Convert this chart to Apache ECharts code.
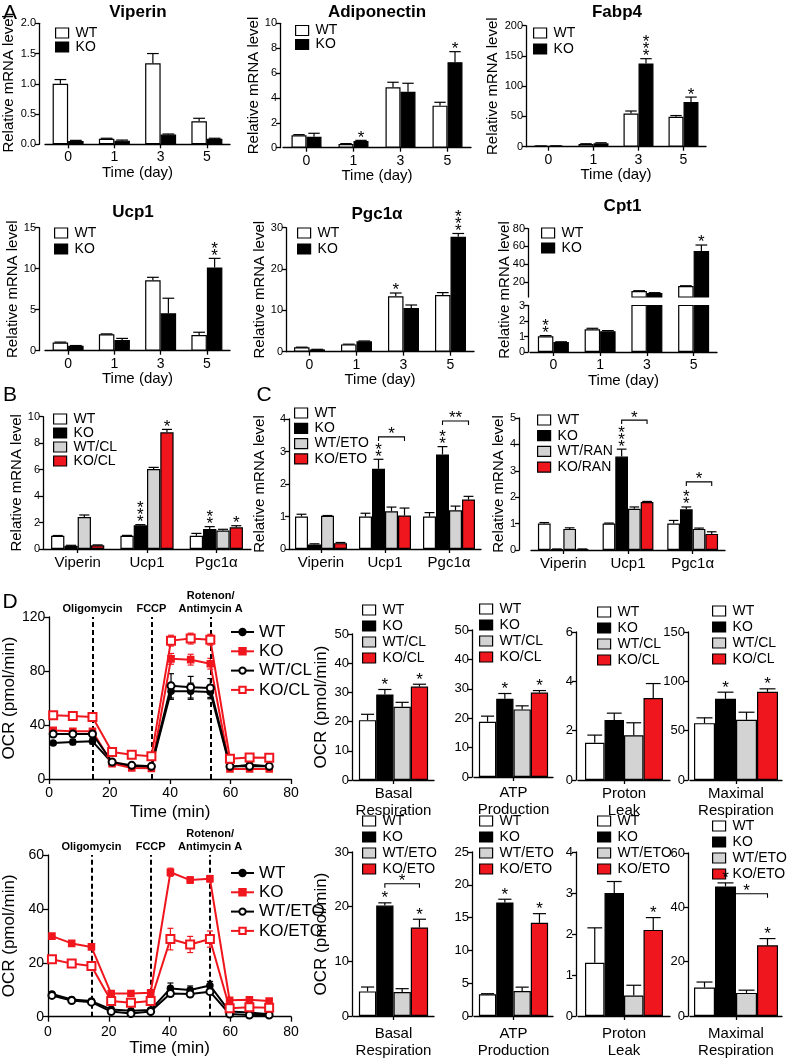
<!DOCTYPE html>
<html><head><meta charset="utf-8">
<script src="https://cdn.jsdelivr.net/npm/echarts@6/dist/echarts.min.js"></script>
<style>html,body{margin:0;padding:0;background:#fff}#c{width:793px;height:1064px}</style>
</head><body><div id="c"></div>
<script>
const FONT = "'Liberation Sans', Arial, Helvetica, sans-serif";
const RED = '#f0161e', GRAY = '#d3d3d3', WHITE = '#ffffff', BLACK = '#000000';

// ---------- Panel A ----------
const days = ['0', '1', '3', '5'];
const viperinWT = [1.00, 0.09, 1.34, 0.38], viperinWTsem = [0.07, 0.01, 0.16, 0.05];
const viperinKO = [0.055, 0.06, 0.16, 0.09], viperinKOsem = [0.01, 0.01, 0.01, 0.01];
const adipoWT = [1.0, 0.30, 4.86, 3.38], adipoWTsem = [0.05, 0.03, 0.40, 0.27];
const adipoKO = [0.88, 0.54, 4.50, 6.87], adipoKOsem = [0.28, 0.05, 0.68, 0.85];
const adipoKOstars = ['', '*', '', '*'];
const fabp4WT = [1.0, 4.4, 55, 49.5], fabp4WTsem = [0.3, 0.5, 4, 2];
const fabp4KO = [1.2, 5.5, 137.5, 74], fabp4KOsem = [0.3, 1.0, 8, 8];
const fabp4KOstars = ['', '', '***', '*'];
const ucp1WT = [1.0, 2.0, 8.6, 1.9], ucp1WTsem = [0.05, 0.05, 0.35, 0.35];
const ucp1KO = [0.6, 1.3, 4.56, 10.16], ucp1KOsem = [0.03, 0.2, 1.84, 1.1];
const ucp1KOstars = ['', '', '', '**'];
const pgcWT = [1.05, 1.77, 13.4, 13.7], pgcWTsem = [0.05, 0.05, 0.8, 0.6];
const pgcKO = [0.55, 2.5, 10.6, 27.8], pgcKOsem = [0.03, 0.1, 0.7, 0.8];
const pgcWTstars = ['', '', '*', ''], pgcKOstars = ['', '', '', '***'];
const cpt1WT = [1.02, 1.47, 9.8, 15.4], cpt1WTsem = [0.04, 0.06, 0.3, 0.3];
const cpt1KO = [0.64, 1.34, 7.5, 54.9], cpt1KOsem = [0.02, 0.04, 0.4, 6.7];
const cpt1WTstars = ['**', '', '', ''], cpt1KOstars = ['', '', '', '*'];

// ---------- Panels B, C ----------
const genes = ['Viperin', 'Ucp1', 'Pgc1α'];
const bWT = [1.0, 1.0, 1.0], bWTsem = [0.02, 0.03, 0.18];
const bKO = [0.25, 1.79, 1.51], bKOsem = [0.03, 0.05, 0.18];
const bWTCL = [2.42, 6.05, 1.39], bWTCLsem = [0.15, 0.12, 0.1];
const bKOCL = [0.28, 8.82, 1.64], bKOCLsem = [0.03, 0.22, 0.12];
const bKOstars = ['', '***', '**'], bKOCLstars = ['', '*', '*'];

const cWT = [1.0, 1.0, 1.0], cWTsem = [0.07, 0.1, 0.12];
const cKO = [0.14, 2.47, 2.91], cKOsem = [0.02, 0.29, 0.24];
const cWTETO = [1.02, 1.16, 1.19], cWTETOsem = [0.01, 0.13, 0.13];
const cKOETO = [0.18, 1.03, 1.52], cKOETOsem = [0.02, 0.23, 0.10];
const cKOstars = ['', '**', '**'];
const cBrackets = [{ci: 1, s1: 1, s2: 3, y: 3.45, text: '*'}, {ci: 2, s1: 1, s2: 3, y: 3.94, text: '**'}];

const rWT = [1.0, 1.0, 1.0], rWTsem = [0.04, 0.02, 0.12];
const rKO = [0.03, 3.54, 1.54], rKOsem = [0.01, 0.28, 0.09];
const rWTRAN = [0.8, 1.56, 0.8], rWTRANsem = [0.04, 0.07, 0.03];
const rKORAN = [0.03, 1.82, 0.61], rKORANsem = [0.01, 0.02, 0.08];
const rKOstars = ['', '***', '**'];
const rBrackets = [{ci: 1, s1: 1, s2: 3, y: 4.92, text: '*'}, {ci: 2, s1: 1, s2: 3, y: 2.58, text: '*'}];

// ---------- Panel D ----------
const times = [1.3, 7.8, 14.3, 20.8, 27.3, 33.8, 40.3, 46.8, 53.3, 59.8, 66.3, 72.8];
const injections = [14.3, 33.8, 53.4];
const injectionLabels = ['Oligomycin', 'FCCP', 'Rotenon/\nAntimycin A'];
const d1WT = [26.7, 27.4, 27.9, 11.9, 9.4, 8.9, 65, 65, 64.4, 8.9, 10.6, 9.4];
const d1WTsem = [1, 2, 2, 1, 1, 1, 6, 6, 5, 1, 1, 1];
const d1KO = [36, 35.3, 35.3, 11.4, 8.1, 7.9, 89, 88.4, 85.4, 7.4, 7.4, 7.4];
const d1KOsem = [1, 1, 1, 1, 1, 1, 4, 4, 4, 1, 1, 1];
const d1WTCL = [33.3, 33.3, 33.3, 12.6, 10.1, 9.4, 69, 68, 67.4, 9.4, 9.4, 9.4];
const d1WTCLsem = [2, 2, 2, 1, 1, 1, 9, 8, 7, 1, 1, 1];
const d1KOCL = [47.2, 46.7, 45.9, 20, 18, 16.8, 102.5, 104, 103.2, 15, 16, 15.8];
const d1KOCLsem = [1, 1, 1, 1, 1, 1, 4, 4, 4, 1, 1, 1];

const d2WT = [8.4, 6.4, 5.8, 2.7, 2.2, 2.5, 10.5, 9.9, 11.6, 1.9, 1.6, 0.9];
const d2WTsem = [0.6, 0.5, 0.5, 0.5, 0.5, 0.5, 2, 1.5, 1.5, 0.5, 0.5, 0.5];
const d2KO = [29.9, 27.2, 25.9, 8.6, 8.6, 8.9, 53.6, 50.7, 51.2, 6.1, 6.3, 5.8];
const d2KOsem = [0.5, 0.5, 0.5, 0.4, 0.3, 0.3, 1.5, 1.2, 1.2, 0.4, 0.4, 0.4];
const d2WTETO = [7.9, 6.0, 5.4, 1.9, 1.2, 1.9, 8.6, 8.4, 9.3, 1.0, 0.6, 0.6];
const d2WTETOsem = [0.5, 0.5, 0.5, 0.5, 0.5, 0.5, 1, 1, 1, 0.5, 0.5, 0.5];
const d2KOETO = [21.3, 19.7, 18.8, 5.8, 5.2, 5.8, 28.8, 26.8, 28.8, 3.1, 3.5, 3.3];
const d2KOETOsem = [1.2, 1.2, 1.3, 0.5, 0.5, 0.5, 4, 3, 3, 0.5, 0.5, 0.5];

const basalCL = [20.5, 29.3, 25.1, 32.0], basalCLsem = [2.0, 1.7, 1.5, 0.8];
const atpCL = [18.8, 26.6, 23.0, 28.7], atpCLsem = [1.9, 1.8, 1.2, 0.7];
const protonCL = [1.51, 2.43, 1.81, 3.32], protonCLsem = [0.31, 0.28, 0.51, 0.59];
const maxCL = [57.6, 82.3, 61.0, 89.4], maxCLsem = [5.4, 6.7, 7.7, 3.0];
const starsCL = ['', '*', '', '*'];

const basalETO = [4.5, 20.2, 4.4, 16.2], basalETOsem = [0.8, 0.5, 0.6, 1.5];
const atpETO = [3.3, 17.3, 3.8, 14.2], atpETOsem = [0.1, 0.5, 0.6, 1.4];
const protonETO = [1.3, 3.0, 0.5, 2.1], protonETOsem = [0.85, 0.28, 0.25, 0.3];
const maxETO = [10.5, 47.7, 8.5, 26.0], maxETOsem = [2, 1.3, 1, 2.5];
const starsETO = ['', '*', '', '*'];
const starsProtonETO = ['', '', '', '*'];
const basalETOBracket = [{ci: 0, s1: 1, s2: 3, y: 24.2, text: '*'}];
const maxETOBracket = [{ci: 0, s1: 1, s2: 3, y: 45, text: '*'}];

// ---------------------------------------------------------------
const option = {
  animation: false, backgroundColor: '#fff', textStyle: {fontFamily: FONT},
  grid: [], xAxis: [], yAxis: [], series: [], legend: [], graphic: {elements: []}
};
const G = option.graphic.elements;
const LW = 1.3;

function addText(x, y, text, fs, bold, rot) {
  G.push({type: 'text', x: x, y: y, rotation: rot || 0, silent: true,
    style: {text: text, fontSize: fs, fontWeight: bold ? 'bold' : 'normal', fontFamily: FONT, fill: '#000', align: 'center', verticalAlign: 'middle'}});
}
function starEl(x, cy, text, fs) {
  return {type: 'text', x: x, y: cy + 0.22 * fs, style: {text: text, fontSize: fs, fontFamily: FONT, fill: '#000', align: 'center', verticalAlign: 'middle'}};
}

function addBarPanel(p) {
  const idx = option.grid.length;
  option.grid.push(Object.assign({containLabel: false}, p.grid));
  const showX = p.showX !== false;
  const xa = {type: 'category', gridIndex: idx, data: p.cats,
    axisLine: {show: showX, lineStyle: {color: '#000', width: LW}},
    axisTick: {show: showX, alignWithLabel: true, length: 4, lineStyle: {color: '#000', width: LW}},
    axisLabel: {show: showX, interval: 0, color: '#000', fontSize: p.xFont || 14, margin: p.xMargin || 6, fontFamily: FONT, lineHeight: p.xLH || undefined},
    splitLine: {show: false}};
  if (p.xName) Object.assign(xa, {name: p.xName, nameLocation: 'middle', nameGap: p.xNameGap,
    nameTextStyle: {color: '#000', fontSize: 15, fontFamily: FONT}});
  option.xAxis.push(xa);
  const y = p.y;
  const ya = {type: 'value', gridIndex: idx, min: y.min, max: y.max, interval: y.interval, offset: y.offset || 0,
    axisLine: {show: true, lineStyle: {color: '#000', width: LW}},
    axisTick: {show: true, length: 4, lineStyle: {color: '#000', width: LW}},
    axisLabel: {color: '#000', fontSize: y.fontSize || 11, margin: 3, fontFamily: FONT},
    splitLine: {show: false}};
  if (y.formatter) ya.axisLabel.formatter = y.formatter;
  if (y.customValues) { ya.axisLabel.customValues = y.customValues; ya.axisTick.customValues = y.customValues; }
  if (y.name) Object.assign(ya, {name: y.name, nameLocation: 'middle', nameGap: y.nameGap, nameRotate: 90,
    nameTextStyle: {color: '#000', fontSize: y.nameFont || 15, fontFamily: FONT}});
  option.yAxis.push(ya);
  const n = p.groups.length, bw = p.barWidth, cap = p.cap || bw * 0.38, fs = p.starFont || 17, sg = p.starGap || 6;
  p.groups.forEach(g => option.series.push({type: 'bar', name: g.name, xAxisIndex: idx, yAxisIndex: idx, data: g.values,
    barWidth: bw, barGap: '0%', clip: true, silent: true, z: 2,
    itemStyle: {color: g.color, borderColor: '#000', borderWidth: 1.2}}));
  const items = [];
  p.groups.forEach((g, si) => g.values.forEach((v, ci) => {
    if (p.keep && !p.keep(v)) return;
    items.push([ci, v, g.sem ? g.sem[ci] : 0, si]);
  }));
  option.series.push({type: 'custom', xAxisIndex: idx, yAxisIndex: idx, silent: true, z: 5, data: items,
    renderItem: function (params, api) {
      const ci = api.value(0), v = api.value(1), e = api.value(2), si = api.value(3);
      const c0 = api.coord([ci, v]);
      const cx = c0[0] + (si - (n - 1) / 2) * bw;
      const y1 = c0[1], y2 = api.coord([ci, v + e])[1];
      const ch = [];
      if (e > 0) {
        ch.push({type: 'line', shape: {x1: cx, y1: y1, x2: cx, y2: y2}, style: {stroke: '#000', lineWidth: 1.2}});
        ch.push({type: 'line', shape: {x1: cx - cap, y1: y2, x2: cx + cap, y2: y2}, style: {stroke: '#000', lineWidth: 1.2}});
      }
      const st = p.groups[si].stars ? p.groups[si].stars[ci] : '';
      for (let k = 0; k < (st ? st.length : 0); k++) ch.push(starEl(cx, y2 - sg - k * 7, '*', fs));
      return {type: 'group', children: ch};
    }});
  if (p.brackets) {
    const br = p.brackets;
    option.series.push({type: 'custom', xAxisIndex: idx, yAxisIndex: idx, silent: true, z: 6,
      data: br.map(b => [b.ci, b.y]),
      renderItem: function (params, api) {
        const b = br[params.dataIndex];
        const c0 = api.coord([b.ci, b.y]);
        const x1 = c0[0] + (b.s1 - (n - 1) / 2) * bw, x2 = c0[0] + (b.s2 - (n - 1) / 2) * bw, yy = c0[1];
        return {type: 'group', children: [
          {type: 'polyline', shape: {points: [[x1, yy + 4], [x1, yy], [x2, yy], [x2, yy + 4]]}, style: {stroke: '#000', fill: null, lineWidth: 1.1}},
          starEl((x1 + x2) / 2, yy - 6, b.text, fs)]};
      }});
  }
  if (p.legend) {
    const L = p.legend, lf = L.fs || 14;
    option.legend.push({orient: 'vertical', left: L.left, top: L.top, itemWidth: L.w || 13, itemHeight: L.h || 10,
      itemGap: L.gap, icon: 'rect', padding: 0, selectedMode: false, data: p.groups.map(g => g.name),
      itemStyle: {borderColor: '#000', borderWidth: 1.2},
      textStyle: {fontSize: lf, lineHeight: lf, color: '#000', fontFamily: FONT, padding: [0, 0, 0, 2]}});
  }
  if (p.title) addText(p.title.x, p.title.y, p.title.text, 17, true);
  return idx;
}

function addLinePanel(p) {
  const idx = option.grid.length;
  option.grid.push(Object.assign({containLabel: false}, p.grid));
  option.xAxis.push({type: 'value', gridIndex: idx, min: 0, max: 80, interval: 20,
    axisLine: {show: true, lineStyle: {color: '#000', width: LW}},
    axisTick: {show: true, length: 5, lineStyle: {color: '#000', width: LW}},
    axisLabel: {color: '#000', fontSize: 14, margin: p.xMargin, fontFamily: FONT},
    splitLine: {show: false},
    name: 'Time (min)', nameLocation: 'middle', nameGap: p.xNameGap,
    nameTextStyle: {color: '#000', fontSize: 17, fontFamily: FONT}});
  option.yAxis.push({type: 'value', gridIndex: idx, min: 0, max: p.ymax, interval: p.yint,
    axisLine: {show: true, lineStyle: {color: '#000', width: LW}},
    axisTick: {show: true, length: 5, lineStyle: {color: '#000', width: LW}},
    axisLabel: {color: '#000', fontSize: 14, margin: 4, fontFamily: FONT},
    splitLine: {show: false},
    name: 'OCR (pmol/min)', nameLocation: 'middle', nameGap: 30, nameRotate: 90,
    nameTextStyle: {color: '#000', fontSize: 17, fontFamily: FONT}});
  p.lines.forEach((l, li) => {
    option.series.push({type: 'custom', xAxisIndex: idx, yAxisIndex: idx, silent: true, z: 2 + li,
      data: times.map((t, i) => [t, l.values[i], l.sem[i]]),
      renderItem: function (params, api) {
        const c = api.coord([api.value(0), api.value(1)]);
        const e = api.value(2);
        const ya = api.coord([api.value(0), api.value(1) + e])[1], yb = api.coord([api.value(0), api.value(1) - e])[1];
        const st = {stroke: l.color, lineWidth: 1.2};
        return {type: 'group', children: [
          {type: 'line', shape: {x1: c[0], y1: ya, x2: c[0], y2: yb}, style: st},
          {type: 'line', shape: {x1: c[0] - 3, y1: ya, x2: c[0] + 3, y2: ya}, style: st},
          {type: 'line', shape: {x1: c[0] - 3, y1: yb, x2: c[0] + 3, y2: yb}, style: st}]};
      }});
    const s = {type: 'line', name: 'L:' + l.name, xAxisIndex: idx, yAxisIndex: idx,
      data: times.map((t, i) => [t, l.values[i]]), symbol: l.symbol, symbolSize: l.size, showAllSymbol: true,
      lineStyle: {color: l.color, width: 2}, itemStyle: {color: l.color, borderColor: l.color, borderWidth: 1.6},
      z: 10 + li, silent: true};
    if (li === 0) s.markLine = {silent: true, symbol: ['none', 'none'], animation: false,
      lineStyle: {color: '#000', type: [5, 3], width: 2},
      label: {show: true, position: 'end', formatter: '{b}', fontSize: 11, fontWeight: 'bold', color: '#000',
        fontFamily: FONT, lineHeight: 13, distance: 2},
      data: injections.map((t, i) => ({xAxis: t, name: injectionLabels[i]}))};
    option.series.push(s);
  });
  option.legend.push({orient: 'vertical', left: p.legend.left, top: p.legend.top, itemWidth: 23, itemHeight: 8,
    itemGap: p.legend.gap, padding: 0, selectedMode: false, data: p.lines.map(l => 'L:' + l.name),
    formatter: nm => nm.slice(2),
    textStyle: {fontSize: 17, lineHeight: 17, color: '#000', fontFamily: FONT}});
}

const relName = 'Relative mRNA level';
const g2 = (wt, wts, ko, kos, wtSt, koSt) => [
  {name: 'WT', color: WHITE, values: wt, sem: wts, stars: wtSt},
  {name: 'KO', color: BLACK, values: ko, sem: kos, stars: koSt}];

// ---- A ----
addText(10, 13, 'A', 21, false);
addBarPanel({grid: {left: 45, top: 23.3, width: 185, height: 121}, cats: days, xName: 'Time (day)', xNameGap: 20,
  y: {min: 0, max: 2, interval: 0.5, offset: 6, formatter: v => v.toFixed(1), name: relName, nameGap: 14},
  groups: g2(viperinWT, viperinWTsem, viperinKO, viperinKOsem), barWidth: 15.5,
  legend: {left: 55, top: 26, gap: 0}, title: {x: 138, y: 12.7, text: 'Viperin'}});
addBarPanel({grid: {left: 283, top: 23.3, width: 188, height: 124.4}, cats: days, xName: 'Time (day)', xNameGap: 20,
  y: {min: 0, max: 10, interval: 2, offset: 3, name: relName, nameGap: 19},
  groups: g2(adipoWT, adipoWTsem, adipoKO, adipoKOsem, null, adipoKOstars), barWidth: 15,
  legend: {left: 295, top: 23.5, gap: 0}, title: {x: 377, y: 12.7, text: 'Adiponectin'}});
addBarPanel({grid: {left: 526, top: 25.7, width: 180, height: 121}, cats: days, xName: 'Time (day)', xNameGap: 20,
  y: {min: 0, max: 200, interval: 50, offset: 0, name: relName, nameGap: 23},
  groups: g2(fabp4WT, fabp4WTsem, fabp4KO, fabp4KOsem, null, fabp4KOstars), barWidth: 15,
  legend: {left: 533, top: 26, gap: 2}, title: {x: 617, y: 12.7, text: 'Fabp4'}});
addBarPanel({grid: {left: 45, top: 227.7, width: 185, height: 123}, cats: days, xName: 'Time (day)', xNameGap: 20,
  y: {min: 0, max: 15, interval: 5, offset: 6, name: relName, nameGap: 13},
  groups: g2(ucp1WT, ucp1WTsem, ucp1KO, ucp1KOsem, null, ucp1KOstars), barWidth: 15.5,
  legend: {left: 54, top: 226, gap: 2}, title: {x: 133, y: 212.5, text: 'Ucp1'}});
addBarPanel({grid: {left: 286, top: 227.7, width: 188, height: 124}, cats: days, xName: 'Time (day)', xNameGap: 20,
  y: {min: 0, max: 30, interval: 10, offset: 0, name: relName, nameGap: 19},
  groups: g2(pgcWT, pgcWTsem, pgcKO, pgcKOsem, pgcWTstars, pgcKOstars), barWidth: 15.5,
  legend: {left: 297, top: 226, gap: 2}, title: {x: 377, y: 214, text: 'Pgc1α'}});
// Cpt1 broken axis: upper and lower segments
addBarPanel({grid: {left: 530, top: 228.7, width: 187, height: 68.3}, cats: days, showX: false,
  y: {min: 3, max: 80, offset: 2, customValues: [20, 40, 60, 80]}, keep: v => v > 3,
  groups: g2(cpt1WT, cpt1WTsem, cpt1KO, cpt1KOsem, cpt1WTstars, cpt1KOstars), barWidth: 15.5,
  legend: {left: 541, top: 226, gap: 1}, title: {x: 622.5, y: 206.5, text: 'Cpt1'}});
addBarPanel({grid: {left: 530, top: 305.5, width: 187, height: 46.5}, cats: days, xName: 'Time (day)', xNameGap: 20,
  y: {min: 0, max: 3, interval: 1, offset: 2}, keep: v => v <= 3,
  groups: g2(cpt1WT, cpt1WTsem, cpt1KO, cpt1KOsem, cpt1WTstars, cpt1KOstars), barWidth: 15.5});
addText(505, 290, relName, 15, false, Math.PI / 2);

// ---- B ----
addText(10, 395.5, 'B', 21, false);
addBarPanel({grid: {left: 43, top: 416.7, width: 208, height: 132.3}, cats: genes, xFont: 15, xMargin: 6,
  y: {min: 0, max: 10, interval: 2, offset: 0, name: relName, nameGap: 17},
  groups: [{name: 'WT', color: WHITE, values: bWT, sem: bWTsem},
    {name: 'KO', color: BLACK, values: bKO, sem: bKOsem, stars: bKOstars},
    {name: 'WT/CL', color: GRAY, values: bWTCL, sem: bWTCLsem},
    {name: 'KO/CL', color: RED, values: bKOCL, sem: bKOCLsem, stars: bKOCLstars}],
  barWidth: 13.3, legend: {left: 53, top: 412, gap: 0}});

// ---- C ----
addText(264, 395.5, 'C', 21, false);
addBarPanel({grid: {left: 289, top: 419, width: 192, height: 130}, cats: genes, xFont: 15, xMargin: 6,
  y: {min: 0, max: 4, interval: 1, offset: 0, name: relName, nameGap: 22},
  groups: [{name: 'WT', color: WHITE, values: cWT, sem: cWTsem},
    {name: 'KO', color: BLACK, values: cKO, sem: cKOsem, stars: cKOstars},
    {name: 'WT/ETO', color: GRAY, values: cWTETO, sem: cWTETOsem},
    {name: 'KO/ETO', color: RED, values: cKOETO, sem: cKOETOsem}],
  barWidth: 13, brackets: cBrackets, legend: {left: 294, top: 406, gap: 1.3}});
addBarPanel({grid: {left: 531, top: 418, width: 194, height: 132}, cats: genes, xFont: 15, xMargin: 6,
  y: {min: 0, max: 5, interval: 1, offset: 12, name: relName, nameGap: 9},
  groups: [{name: 'WT', color: WHITE, values: rWT, sem: rWTsem},
    {name: 'KO', color: BLACK, values: rKO, sem: rKOsem, stars: rKOstars},
    {name: 'WT/RAN', color: GRAY, values: rWTRAN, sem: rWTRANsem},
    {name: 'KO/RAN', color: RED, values: rKORAN, sem: rKORANsem}],
  barWidth: 12.7, brackets: rBrackets, legend: {left: 537, top: 413, gap: 1.7}});

// ---- D ----
addText(10, 602.5, 'D', 21, false);
addLinePanel({grid: {left: 48, top: 617, width: 243, height: 162}, ymax: 120, yint: 40, xMargin: 7, xNameGap: 25,
  lines: [{name: 'WT', values: d1WT, sem: d1WTsem, color: BLACK, symbol: 'circle', size: 6},
    {name: 'KO', values: d1KO, sem: d1KOsem, color: RED, symbol: 'rect', size: 6},
    {name: 'WT/CL', values: d1WTCL, sem: d1WTCLsem, color: BLACK, symbol: 'emptyCircle', size: 7},
    {name: 'KO/CL', values: d1KOCL, sem: d1KOCLsem, color: RED, symbol: 'emptyRect', size: 8}],
  legend: {left: 230, top: 623.5, gap: 2.3}});
addLinePanel({grid: {left: 48, top: 855, width: 243, height: 161.7}, ymax: 60, yint: 20, xMargin: 8, xNameGap: 23,
  lines: [{name: 'WT', values: d2WT, sem: d2WTsem, color: BLACK, symbol: 'circle', size: 6},
    {name: 'KO', values: d2KO, sem: d2KOsem, color: RED, symbol: 'rect', size: 6},
    {name: 'WT/ETO', values: d2WTETO, sem: d2WTETOsem, color: BLACK, symbol: 'emptyCircle', size: 7},
    {name: 'KO/ETO', values: d2KOETO, sem: d2KOETOsem, color: RED, symbol: 'emptyRect', size: 8}],
  legend: {left: 230, top: 864.5, gap: 2.3}});

const g4 = (vals, sems, stars, sfx) => [
  {name: 'WT', color: WHITE, values: [vals[0]], sem: [sems[0]], stars: [stars[0]]},
  {name: 'KO', color: BLACK, values: [vals[1]], sem: [sems[1]], stars: [stars[1]]},
  {name: 'WT/' + sfx, color: GRAY, values: [vals[2]], sem: [sems[2]], stars: [stars[2]]},
  {name: 'KO/' + sfx, color: RED, values: [vals[3]], sem: [sems[3]], stars: [stars[3]]}];
const noStars = ['', '', '', ''];
const dBar = (grid, cat, y, groups, bw, legend, margin, brackets) => addBarPanel({grid: grid, cats: [cat], xFont: 15,
  xMargin: margin, xLH: 17, y: y, groups: groups, barWidth: bw, legend: legend, starGap: 8, brackets: brackets});

dBar({left: 353, top: 634, width: 81, height: 146}, 'Basal\nRespiration',
  {min: 0, max: 50, interval: 10, offset: 1, fontSize: 13, name: 'OCR (pmol/min)', nameGap: 22, nameFont: 17},
  g4(basalCL, basalCLsem, starsCL, 'CL'), 17.3, {left: 362, top: 603, gap: 2}, 5);
dBar({left: 474, top: 630, width: 79, height: 147}, 'ATP\nProduction',
  {min: 0, max: 50, interval: 10, offset: 2, fontSize: 13},
  g4(atpCL, atpCLsem, starsCL, 'CL'), 17.3, {left: 479, top: 602, gap: 2}, 7);
dBar({left: 578, top: 632, width: 92, height: 148}, 'Proton\nLeak',
  {min: 0, max: 6, interval: 2, offset: 2, fontSize: 13},
  g4(protonCL, protonCLsem, noStars, 'CL'), 19.5, {left: 597, top: 605, gap: 2}, 5);
dBar({left: 690, top: 632, width: 92, height: 148}, 'Maximal\nRespiration',
  {min: 0, max: 150, interval: 50, offset: 2, fontSize: 13},
  g4(maxCL, maxCLsem, starsCL, 'CL'), 21, {left: 712, top: 604, gap: 2}, 5);

dBar({left: 353, top: 852, width: 81, height: 164}, 'Basal\nRespiration',
  {min: 0, max: 30, interval: 10, offset: 1, fontSize: 13, name: 'OCR (pmol/min)', nameGap: 22, nameFont: 17},
  g4(basalETO, basalETOsem, starsETO, 'ETO'), 17.3, {left: 362, top: 814, gap: 2}, 9, basalETOBracket);
dBar({left: 474, top: 852, width: 79, height: 164}, 'ATP\nProduction',
  {min: 0, max: 25, interval: 5, offset: 2, fontSize: 13},
  g4(atpETO, atpETOsem, starsETO, 'ETO'), 17.3, {left: 479, top: 814, gap: 2}, 9);
dBar({left: 578, top: 852, width: 92, height: 164}, 'Proton\nLeak',
  {min: 0, max: 4, interval: 1, offset: 2, fontSize: 13},
  g4(protonETO, protonETOsem, starsProtonETO, 'ETO'), 19.5, {left: 597, top: 814, gap: 2}, 9);
dBar({left: 690, top: 853, width: 92, height: 163}, 'Maximal\nRespiration',
  {min: 0, max: 60, interval: 20, offset: 2, fontSize: 13},
  g4(maxETO, maxETOsem, starsETO, 'ETO'), 21, {left: 712, top: 819, gap: 2}, 9, maxETOBracket);

const chart = echarts.init(document.getElementById('c'), null, {renderer: 'canvas'});
chart.setOption(option);
</script></body></html>
